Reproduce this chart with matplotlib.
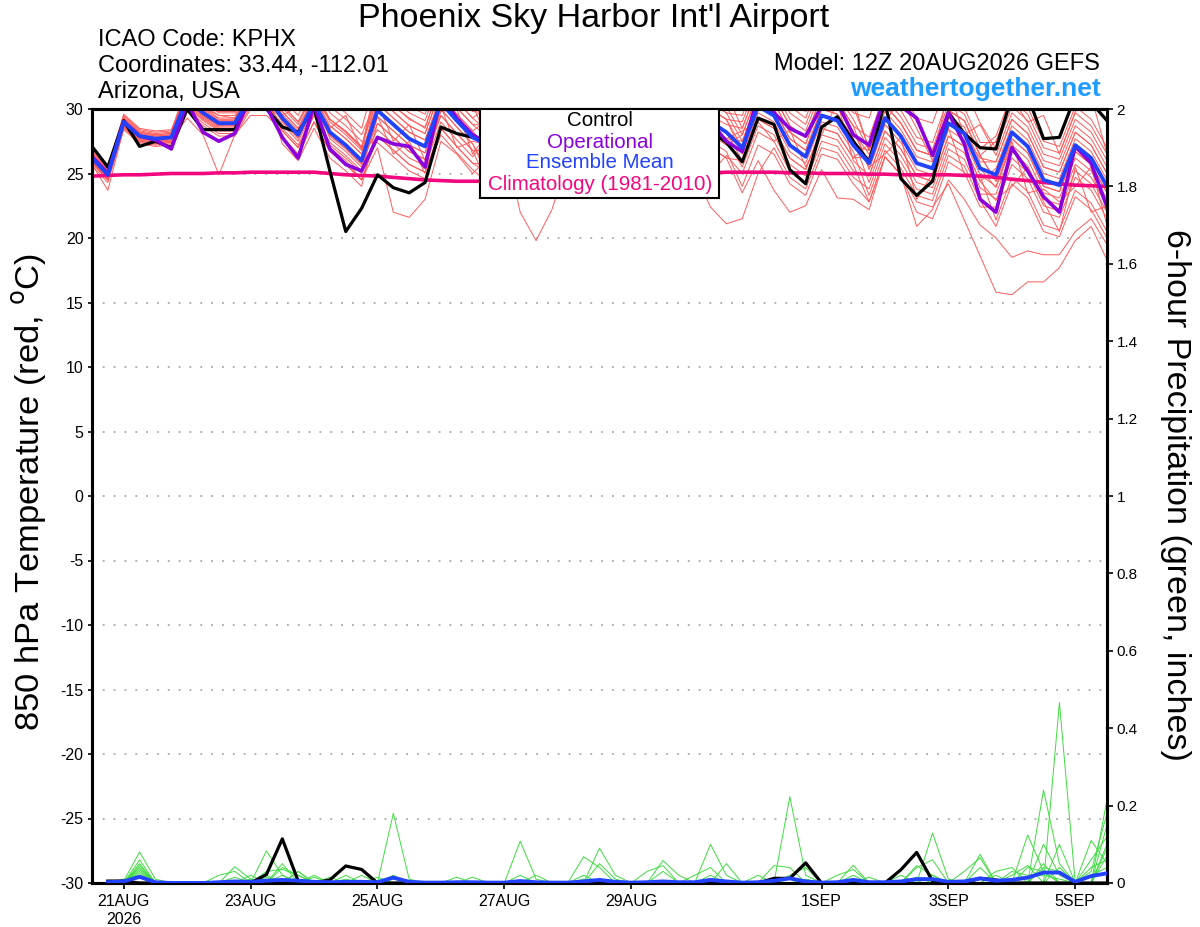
import numpy as np
import pandas as pd
import matplotlib
matplotlib.use('Agg')
import matplotlib.pyplot as plt
from matplotlib.patches import Rectangle

plt.rcParams['font.family'] = ['Liberation Sans', 'DejaVu Sans']
plt.rcParams['axes.unicode_minus'] = False

# 6-hourly steps from the 12Z 20AUG2026 run
times = pd.date_range('2026-08-20 12:00', periods=65, freq='6h')

# 850 hPa temperature (C)
control = [27.1, 25.5, 29.1, 27.1, 27.5, 27.0, 30.0, 28.4, 28.4, 28.4, 31.0, 30.0, 28.6, 28.2, 30.1, 25.2,
           20.5, 22.3, 24.9, 23.9, 23.5, 24.3, 28.6, 28.1, 27.8, 27.6, 29.6, 28.8, 27.5, 27.0, 29.8, 28.7,
           27.8, 27.0, 29.5, 28.5, 27.3, 26.8, 29.2, 28.3, 27.4, 25.9, 29.3, 28.8, 25.3, 24.2, 28.6, 29.4,
           27.5, 25.9, 30.6, 24.6, 23.3, 24.4, 29.7, 28.1, 27.0, 26.9, 31.0, 31.0, 27.7, 27.8, 31.0, 30.5, 29.1]
operational = [26.3, 25.0, 29.0, 27.9, 27.6, 26.9, 30.5, 28.2, 27.5, 28.1, 31.0, 30.2, 27.8, 26.2, 30.3, 26.9,
               25.7, 25.2, 27.8, 27.3, 27.1, 25.5, 31.0, 29.3, 28.0, 27.3, 30.5, 29.5, 28.3, 27.6, 30.8, 29.6,
               28.5, 27.8, 30.6, 29.2, 28.0, 27.3, 30.2, 29.0, 27.5, 26.7, 31.0, 29.7, 28.5, 27.9, 30.2, 30.5,
               28.0, 27.2, 31.0, 30.2, 29.3, 26.4, 29.7, 27.3, 23.0, 22.0, 27.0, 25.2, 23.2, 22.0, 27.1, 25.8, 22.4]
ens_mean = [26.2, 24.9, 29.0, 27.9, 27.7, 27.8, 30.8, 29.7, 28.9, 28.9, 31.0, 31.0, 29.3, 28.0, 30.5, 28.2,
            27.2, 26.0, 29.9, 28.8, 27.7, 27.1, 30.5, 29.1, 27.8, 27.2, 30.3, 29.0, 28.0, 27.5, 30.4, 29.2,
            28.2, 27.6, 30.2, 29.0, 28.0, 27.4, 30.0, 29.0, 28.2, 27.0, 30.2, 29.5, 27.2, 26.3, 29.5, 29.1,
            27.2, 25.8, 29.3, 27.9, 25.8, 25.4, 28.9, 28.1, 25.4, 24.9, 28.2, 27.1, 24.5, 24.1, 27.2, 26.2, 24.0]
climatology = [24.8, 24.85, 24.9, 24.9, 24.95, 25.0, 25.0, 25.0, 25.05, 25.05, 25.1, 25.1, 25.1, 25.1, 25.1, 25.0,
               24.9, 24.85, 24.8, 24.7, 24.6, 24.5, 24.45, 24.4, 24.4, 24.4, 24.4, 24.45, 24.5, 24.55, 24.6, 24.65,
               24.7, 24.75, 24.8, 24.85, 24.9, 24.95, 25.0, 25.05, 25.1, 25.1, 25.1, 25.1, 25.05, 25.05, 25.0, 25.0,
               25.0, 24.95, 24.95, 24.9, 24.9, 24.9, 24.9, 24.85, 24.8, 24.7, 24.55, 24.45, 24.3, 24.2, 24.1, 24.05, 24.0]

# ensemble members
m1 = [26.5,25.3,29.2,28.2,28.0,28.1, 31.3,30.1,29.5,29.3,31.4,31.6, 30.3,29.0,31.4,29.2,28.3,27.1, 31.4,30.2,29.3,28.5,32.0,30.6,29.3, 28.2,31.3,30.0,29.0,28.5,31.4,30.1,29.2, 28.1,30.7,29.5,28.5,27.9,30.5,29.5,28.8, 28.5,31.7,31.0,28.7,27.8,31.0,30.6,28.7, 27.8,31.3,29.9,27.8,27.4,30.9,30.1,27.4, 27.4,30.7,29.6,27.0,26.6,29.7,28.7,26.5]
m2 = [25.9,24.5,28.7,27.6,27.4,27.5, 30.4,29.3,28.5,28.5,30.6,30.5, 28.3,27.0,29.5,27.0,26.0,24.5, 27.9,26.8,25.7,25.1,28.5,27.1,25.8, 25.7,28.8,27.5,26.5,26.0,28.9,27.7,26.7, 27.1,29.7,28.5,27.5,26.9,29.5,28.5,27.7, 28.3,29.0,27.5,28.4,25.5,28.0,30.5,26.0, 24.8,28.3,26.9,24.8,24.4,27.9,27.1,24.4, 22.9,26.2,25.1,22.5,22.1,25.2,24.2,22.0]
m3 = [26.3,25.0,29.1,28.0,27.8,27.9, 31.8,30.7,29.9,29.9,32.0,31.8, 29.8,28.5,31.0,27.7,26.7,25.5, 29.4,28.3,27.2,26.6,30.0,28.6,27.3, 24.7,27.8,26.5,25.5,25.0,27.9,26.7,25.7, 25.8,26.5,27.0,23.8,25.5,28.2,25.0,26.4, 25.0,28.2,27.5,25.2,24.3,27.5,27.1,25.2, 24.8,28.3,26.9,24.8,24.4,27.9,27.1,24.4, 25.4,28.7,27.6,25.0,24.6,27.7,26.7,24.5]
m4 = [25.7,23.7,28.5,27.4,27.2,27.3, 29.8,28.7,27.9,27.9,30.0,30.0, 27.8,26.5,29.0,26.7,25.7,24.5, 27.0,22.0,21.6,23.0,27.5,26.5,25.0, 26.2,29.3,28.0,27.0,26.5,29.4,28.2,27.2, 28.6,31.2,30.0,29.0,28.4,31.0,30.0,29.2, 29.0,32.2,31.5,29.2,28.3,31.5,31.1,29.2, 26.8,30.3,28.9,26.8,26.4,29.9,29.1,26.4, 24.4,27.7,26.6,24.0,23.6,26.7,25.7,23.5]
m5 = [26.7,25.4,29.5,28.4,28.2,28.3, 31.6,30.5,29.7,29.7,31.8,31.8, 29.5,30.2,31.0,28.5,29.5,26.8, 31.9,30.8,29.7,29.1,32.5,31.1,29.8, 29.7,32.8,31.5,30.5,30.0,32.9,31.7,30.7, 29.6,32.2,31.0,30.0,29.4,32.0,31.0,30.2, 28.0,31.2,30.5,28.2,27.3,30.5,30.1,28.2, 25.8,29.3,27.9,25.8,25.4,28.9,28.1,25.4, 23.9,27.2,26.1,23.5,23.1,26.2,25.2,23.0]
m6 = [26.1,24.8,28.9,27.8,27.6,27.7, 30.6,29.5,28.7,28.7,30.8,30.8, 29.6,28.3,30.8,29.2,28.2,27.0, 30.9,29.8,28.7,28.1,31.5,30.1,28.8, 28.7,31.8,30.5,29.5,29.0,31.9,30.7,29.7, 30.1,32.7,31.5,30.5,29.9,32.5,31.5,30.7, 30.0,33.2,32.5,30.2,29.3,32.5,32.1,30.2, 27.0,30.5,31.2,29.0,26.5,30.0,28.0,28.8, 26.4,29.7,28.6,26.0,25.6,28.7,27.7,25.5]
m7 = [26.4,25.1,29.2,28.1,27.9,28.0, 30.2,29.1,28.3,28.3,30.4,30.4, 28.8,27.5,30.0,28.7,27.7,26.5, 30.4,29.3,28.2,27.6,31.0,29.6,28.3, 26.7,29.8,28.5,27.5,27.0,29.9,28.7,27.7, 26.1,28.7,27.5,26.5,25.9,28.5,27.5,26.7, 24.0,27.2,26.5,24.2,23.3,26.5,26.1,24.2, 22.8,26.3,24.9,22.8,22.4,24.2,21.4,18.6, 15.8,15.6,16.6,16.6,17.7,19.8,20.9,18.3]
m8 = [26.0,24.7,28.8,27.7,27.5,27.6, 31.1,30.0,29.2,29.2,31.3,31.3, 27.3,26.0,28.5,26.2,25.2,24.0, 28.9,27.8,26.7,26.1,29.5,28.1,26.8, 24.0,27.5,22.0,19.8,22.2,26.0,25.0,24.5, 25.6,28.2,27.0,26.0,25.4,28.0,27.0,26.2, 26.0,29.2,28.5,26.2,25.3,28.5,28.1,26.2, 26.3,29.8,28.4,26.3,25.9,29.4,28.6,25.9, 25.9,29.2,28.1,25.5,25.1,28.2,27.2,25.0]
m9 = [26.6,25.3,29.4,28.3,28.1,28.2, 32.0,30.9,30.1,30.1,32.2,32.2, 31.3,30.0,32.5,30.2,29.2,28.0, 30.9,29.8,28.7,28.1,31.5,30.1,28.8, 27.7,30.8,29.5,28.5,28.0,30.9,29.7,28.7, 27.1,29.7,28.5,27.5,26.9,29.5,28.5,27.7, 25.5,28.7,28.0,25.7,24.8,28.0,27.6,25.7, 22.8,26.3,24.9,22.0,21.5,24.5,23.0,21.0, 20.0,18.5,19.0,18.7,18.7,20.5,21.5,19.5]
m10 = [25.8,24.5,28.6,27.5,27.3,27.4, 30.0,28.9,28.1,28.1,30.2,30.2, 29.3,28.0,30.5,28.2,27.2,26.0, 28.4,27.3,26.2,25.6,29.0,27.6,26.3, 27.7,30.8,29.5,28.5,28.0,30.9,29.7,28.7, 29.1,31.7,30.5,29.5,28.9,31.5,30.5,29.7, 27.5,30.7,30.0,27.7,26.8,30.0,29.6,27.7, 24.3,27.8,26.4,24.3,23.9,27.4,26.6,23.9, 23.0,24.0,25.5,22.8,20.5,25.5,22.0,22.5]
m11 = [26.2,24.9,29.0,27.9,27.7,27.8, 31.0,29.9,29.1,29.1,31.2,31.2, 30.3,29.0,31.5,29.2,28.2,27.0, 32.4,31.3,30.2,29.6,33.0,31.6,30.3, 27.5,30.0,31.5,28.0,30.2,30.5,29.0,30.8, 27.6,30.2,29.0,28.0,27.4,30.0,29.0,28.2, 26.0,29.2,28.5,26.2,25.3,28.5,28.1,26.2, 27.3,30.8,29.4,27.3,26.9,30.4,29.6,26.9, 27.9,31.2,30.1,27.5,27.1,30.2,29.2,27.0]
m12 = [25.6,24.3,28.4,27.3,27.1,27.2, 30.5,29.4,28.6,28.6,30.7,30.7, 28.5,27.2,29.7,27.4,26.4,25.2, 29.4,28.3,27.2,26.6,30.0,28.6,27.3, 25.2,28.3,27.0,26.0,25.5,28.4,27.2,26.2, 24.1,26.7,25.5,24.5,23.9,25.0,22.4,21.1, 21.5,25.0,27.0,24.7,23.8,27.0,26.6,24.7, 23.8,27.3,25.9,23.8,23.4,26.9,26.1,23.4, 23.4,26.7,25.6,23.0,22.6,25.7,24.7,22.5]
m13 = [26.8,25.5,29.6,28.5,28.3,28.4, 31.4,30.3,29.5,29.5,31.6,31.6, 29.8,28.5,31.0,28.7,27.7,26.5, 30.5,27.5,28.8,26.0,29.8,30.0,26.5, 28.2,31.3,30.0,29.0,28.5,31.4,30.2,29.2, 29.1,31.7,30.5,29.5,28.9,31.5,30.5,29.7, 29.5,32.7,32.0,29.7,28.8,32.0,31.6,29.7, 29.3,32.8,31.4,29.3,28.9,32.4,31.6,28.9, 26.9,30.2,29.1,26.5,26.1,29.2,28.2,26.0]
m14 = [26.0,24.7,28.8,27.7,27.5,27.6, 29.3,28.0,24.9,28.0,29.5,29.5, 28.3,27.0,29.5,27.2,26.2,25.0, 30.4,29.3,28.2,27.6,31.0,29.6,28.3, 29.2,32.3,31.0,30.0,29.5,32.4,31.2,30.2, 28.6,31.2,30.0,29.0,28.4,31.0,30.0,29.2, 26.5,29.7,29.0,26.7,25.8,29.0,28.6,26.7, 23.3,26.8,25.4,23.3,22.9,26.4,25.6,22.9, 20.9,24.2,23.1,20.5,20.1,23.2,22.2,20.0]
m15 = [26.4,25.1,29.2,28.1,27.9,28.0, 31.2,30.1,29.3,29.3,31.4,31.4, 30.8,29.5,32.0,29.7,28.7,27.5, 27.4,26.3,25.2,24.6,28.0,26.6,25.3, 24.2,27.3,26.0,25.0,24.5,27.4,26.2,25.2, 26.6,29.2,28.0,27.0,26.4,29.0,28.0,27.2, 28.0,31.2,30.5,28.2,27.3,30.5,30.1,28.2, 26.5,29.0,30.8,28.5,26.0,31.5,28.0,26.2, 25.9,29.2,28.1,25.5,25.1,28.2,27.2,25.0]
m16 = [25.9,24.6,28.7,27.6,27.4,27.5, 30.8,29.7,28.9,28.9,31.0,31.0, 29.0,27.7,30.2,27.9,26.9,25.7, 31.4,30.3,29.2,28.6,32.0,30.6,29.3, 30.2,33.3,32.0,31.0,30.5,33.4,32.2,31.2, 30.6,33.2,32.0,31.0,30.4,33.0,32.0,31.2, 28.5,31.7,31.0,28.7,27.8,31.0,30.6,28.7, 25.3,28.8,27.4,25.3,24.9,28.4,27.6,24.9, 24.0,27.5,23.5,23.8,22.8,24.0,25.5,21.0]
m17 = [26.5,25.2,29.3,28.2,28.0,28.1, 31.7,30.6,29.8,29.8,31.9,31.9, 30.1,28.8,31.3,29.0,28.0,26.8, 29.5,26.5,27.5,25.0,30.2,27.0,27.5, 27.2,30.3,29.0,28.0,27.5,30.4,29.2,28.2, 29.6,32.2,31.0,30.0,29.4,32.0,31.0,30.2, 30.5,33.7,33.0,30.7,29.8,33.0,32.6,30.7, 26.8,30.3,28.9,26.8,26.4,29.9,29.1,26.4, 24.4,27.7,26.6,24.0,23.6,26.7,25.7,23.5]
m18 = [25.8,24.5,28.6,27.5,27.3,27.4, 30.3,29.2,28.4,28.4,30.5,30.5, 27.8,26.5,29.0,26.7,25.7,24.5, 27.9,26.8,25.7,25.1,28.5,27.1,25.8, 25.0,28.5,26.5,25.8,27.0,28.0,29.0,26.0, 25.6,28.2,27.0,26.0,25.4,28.0,27.0,26.2, 23.5,26.0,23.7,22.0,22.5,25.3,23.1,23.0, 22.2,26.3,24.9,20.9,22.2,25.9,25.1,22.4, 22.4,25.7,24.6,22.0,21.6,24.7,23.7,21.5]
m19 = [26.3,25.0,29.1,28.0,27.8,27.9, 30.9,29.8,29.0,29.0,31.1,31.1, 31.8,30.5,33.0,30.7,29.7,28.5, 32.9,31.8,30.7,30.1,33.5,32.1,30.8, 29.2,32.3,31.0,30.0,29.5,32.4,31.2,30.2, 28.6,31.2,30.0,29.0,28.4,31.0,30.0,29.2, 27.0,30.2,29.5,27.2,26.3,29.5,29.1,27.2, 26.8,30.3,28.9,26.8,26.4,29.9,29.1,26.4, 27.5,30.8,29.0,29.5,26.5,29.8,31.0,26.5]
m20 = [26.1,24.8,28.9,27.8,27.6,27.7, 30.6,29.5,28.7,28.7,30.8,30.8, 29.1,27.8,30.3,28.0,27.0,25.8, 28.9,27.8,26.7,26.1,29.5,28.1,26.8, 26.7,29.8,28.5,27.5,27.0,29.9,28.7,27.7, 27.1,29.7,28.5,27.5,26.9,29.5,28.5,27.7, 27.5,30.7,30.0,27.7,26.8,30.0,29.6,27.7, 25.5,26.5,27.8,23.0,25.0,28.5,25.0,24.8, 21.4,24.7,23.6,21.0,20.6,23.7,22.7,20.5]
members = [m1, m2, m3, m4, m5, m6, m7, m8, m9, m10, m11, m12, m13, m14, m15, m16, m17, m18, m19, m20]

# 6-hour precipitation (inches), steps 1..64
ctl_precip = [0.005, 0.005, 0, 0, 0, 0, 0, 0, 0, 0, 0.022, 0.114, 0.005, 0, 0.008, 0.044,
              0.035, 0, 0, 0, 0, 0, 0, 0, 0, 0, 0, 0, 0, 0, 0, 0,
              0, 0, 0, 0, 0, 0, 0, 0, 0, 0, 0.012, 0.012, 0.052, 0, 0, 0,
              0, 0, 0.034, 0.079, 0.005, 0, 0, 0.012, 0.008, 0, 0, 0, 0, 0, 0, 0]
mean_precip = [0.002, 0.004, 0.016, 0.002, 0, 0, 0, 0.002, 0.004, 0.003, 0.006, 0.008, 0.006, 0.003, 0.002, 0.003,
               0.003, 0.002, 0.014, 0.003, 0.001, 0.001, 0.002, 0.002, 0.001, 0.001, 0.005, 0.002, 0.001, 0.001, 0.004, 0.008,
               0.003, 0.001, 0.002, 0.004, 0.002, 0.002, 0.008, 0.004, 0.001, 0.002, 0.006, 0.012, 0.004, 0.001, 0.002, 0.008,
               0.002, 0.002, 0.004, 0.010, 0.010, 0.003, 0.004, 0.012, 0.006, 0.008, 0.014, 0.027, 0.027, 0.003, 0.018, 0.025]
# member precip, only non-zero steps listed
g1 = {2: 0.005, 3: 0.08, 4: 0.01, 11: 0.083, 12: 0.02, 19: 0.18, 20: 0.01, 44: 0.223, 45: 0.02, 60: 0.24, 61: 0.05, 64: 0.214}
g2 = {3: 0.06, 9: 0.042, 10: 0.01, 12: 0.04, 13: 0.02, 27: 0.108, 28: 0.01, 53: 0.129, 54: 0.01, 61: 0.466, 64: 0.09}
g3 = {3: 0.05, 8: 0.02, 9: 0.03, 11: 0.02, 13: 0.03, 16: 0.01, 19: 0.02, 32: 0.09, 33: 0.02, 39: 0.10, 40: 0.02, 59: 0.124, 60: 0.03, 64: 0.15}
g4 = {3: 0.045, 10: 0.02, 12: 0.05, 14: 0.02, 17: 0.02, 31: 0.068, 32: 0.04, 36: 0.058, 37: 0.02, 52: 0.045, 53: 0.02, 57: 0.03, 58: 0.04, 61: 0.1, 63: 0.11, 64: 0.05}
g5 = {3: 0.04, 9: 0.015, 11: 0.03, 12: 0.035, 13: 0.02, 24: 0.015, 28: 0.02, 40: 0.05, 43: 0.045, 44: 0.04, 48: 0.046, 56: 0.074, 60: 0.05, 63: 0.06, 64: 0.12}
g6 = {3: 0.035, 12: 0.02, 15: 0.015, 19: 0.01, 23: 0.015, 35: 0.03, 36: 0.045, 38: 0.02, 39: 0.04, 47: 0.02, 48: 0.035, 55: 0.03, 56: 0.065, 59: 0.04, 60: 0.03, 64: 0.07}
g7 = {3: 0.03, 11: 0.01, 13: 0.03, 16: 0.02, 18: 0.015, 32: 0.05, 33: 0.01, 44: 0.02, 45: 0.04, 52: 0.04, 53: 0.06, 58: 0.02, 59: 0.045, 61: 0.04, 63: 0.03, 64: 0.18}
g8 = {3: 0.025, 12: 0.01, 14: 0.015, 27: 0.02, 31: 0.02, 36: 0.03, 42: 0.02, 49: 0.015, 51: 0.02, 56: 0.04, 60: 0.1, 61: 0.02, 63: 0.04, 64: 0.06}
g9 = {2: 0.01, 3: 0.02, 11: 0.015, 19: 0.015, 39: 0.02, 44: 0.01, 48: 0.02, 52: 0.015, 57: 0.02, 60: 0.04, 61: 0.03, 63: 0.02, 64: 0.04}
g10 = {3: 0.015, 10: 0.01, 13: 0.01, 20: 0.005, 31: 0.01, 45: 0.01, 53: 0.02, 58: 0.03, 59: 0.02, 60: 0.02, 61: 0.01, 64: 0.1}
precip_members = [g1, g2, g3, g4, g5, g6, g7, g8, g9, g10]

tick_dates = ['2026-08-21', '2026-08-23', '2026-08-25', '2026-08-27', '2026-08-29',
              '2026-09-01', '2026-09-03', '2026-09-05']
tick_labels = ['21AUG\n2026', '23AUG', '25AUG', '27AUG', '29AUG', '1SEP', '3SEP', '5SEP']

W, H = 1200, 927
days = np.asarray((times - times[0]) / pd.Timedelta('1D'))
pdays = days[1:]

fig = plt.figure(figsize=(W / 100, H / 100), dpi=100)
ax = fig.add_axes([92 / W, 44 / H, 1015 / W, 774 / H])
ax2 = ax.twinx()

for m in members:
    ax.plot(days, m, color='#ff5b5b', lw=0.7, zorder=2)
ax.plot(days, climatology, color='#f2077f', lw=2.6, zorder=3)
ax.plot(days, control, color='black', lw=2.3, zorder=4)
ax.plot(days, operational, color='#8a00dc', lw=2.6, zorder=5)
ax.plot(days, ens_mean, color='#2242ff', lw=2.8, zorder=6)

for g in precip_members:
    vals = np.zeros(len(pdays))
    for k, v in g.items():
        vals[k - 1] = v
    ax2.plot(pdays, vals, color='#3fdc3f', lw=0.7, zorder=2)
ax2.plot(pdays, ctl_precip, color='black', lw=2.3, zorder=4)
ax2.plot(pdays, mean_precip, color='#2242ff', lw=2.8, zorder=5)

ax.set_xlim(0, 16)
ax.set_ylim(-30, 30)
ax2.set_ylim(0, 2)
ax.set_yticks(np.arange(-30, 31, 5))
ax2.set_yticks(np.arange(0, 2.01, 0.2))
ax2.set_yticklabels(['0', '0.2', '0.4', '0.6', '0.8', '1', '1.2', '1.4', '1.6', '1.8', '2'])
tick_pos = (pd.to_datetime(tick_dates) - times[0]) / pd.Timedelta('1D')
ax.set_xticks(np.asarray(tick_pos))
ax.set_xticklabels(tick_labels)

ax.yaxis.grid(True, linestyle=(0, (1, 5)), color='#a8a8a8', lw=1.3)
ax.set_axisbelow(True)

for a in (ax, ax2):
    for s in a.spines.values():
        s.set_linewidth(2.2)
ax.tick_params(axis='y', direction='out', length=3, width=1.2, labelsize=11.5, pad=3)
ax.tick_params(axis='x', direction='out', length=4, width=1.2, labelsize=11.5, pad=4)
ax2.tick_params(axis='y', direction='out', length=4, width=1.2, labelsize=11, pad=3)

def fy(y):
    return (H - y) / H

fig.text(0.495, fy(18), "Phoenix Sky Harbor Int'l Airport", ha='center', va='center', fontsize=24.5)
fig.text(98 / W, fy(40), 'ICAO Code: KPHX', ha='left', va='center', fontsize=17)
fig.text(98 / W, fy(66), 'Coordinates: 33.44, -112.01', ha='left', va='center', fontsize=17)
fig.text(98 / W, fy(92), 'Arizona, USA', ha='left', va='center', fontsize=17)
fig.text(1100 / W, fy(64), 'Model: 12Z 20AUG2026 GEFS', ha='right', va='center', fontsize=17)
fig.text(1101 / W, fy(89), 'weathertogether.net', ha='right', va='center', fontsize=19,
         fontweight='bold', color='#1e9cff')
fig.text(30 / W, fy(492), '850 hPa Temperature (red, $^{\\mathrm{o}}$C)', ha='center', va='center',
         rotation=90, fontsize=24.8)
fig.text(1175 / W, fy(495), '6-hour Precipitation (green, inches)', ha='center', va='center',
         rotation=-90, fontsize=24.5)

# legend box
fig.add_artist(Rectangle((480 / W, fy(198)), 239 / W, 89 / H, transform=fig.transFigure,
                         facecolor='white', edgecolor='black', lw=1.5, zorder=10))
leg = [('Control', 'black', 121), ('Operational', '#8a00dc', 142),
       ('Ensemble Mean', '#2242ff', 163), ('Climatology (1981-2010)', '#f2077f', 185)]
for txt, col, yy in leg:
    fig.text(600 / W, fy(yy), txt, ha='center', va='center', fontsize=14.8, color=col, zorder=11)

fig.savefig('out.png', dpi=100)
